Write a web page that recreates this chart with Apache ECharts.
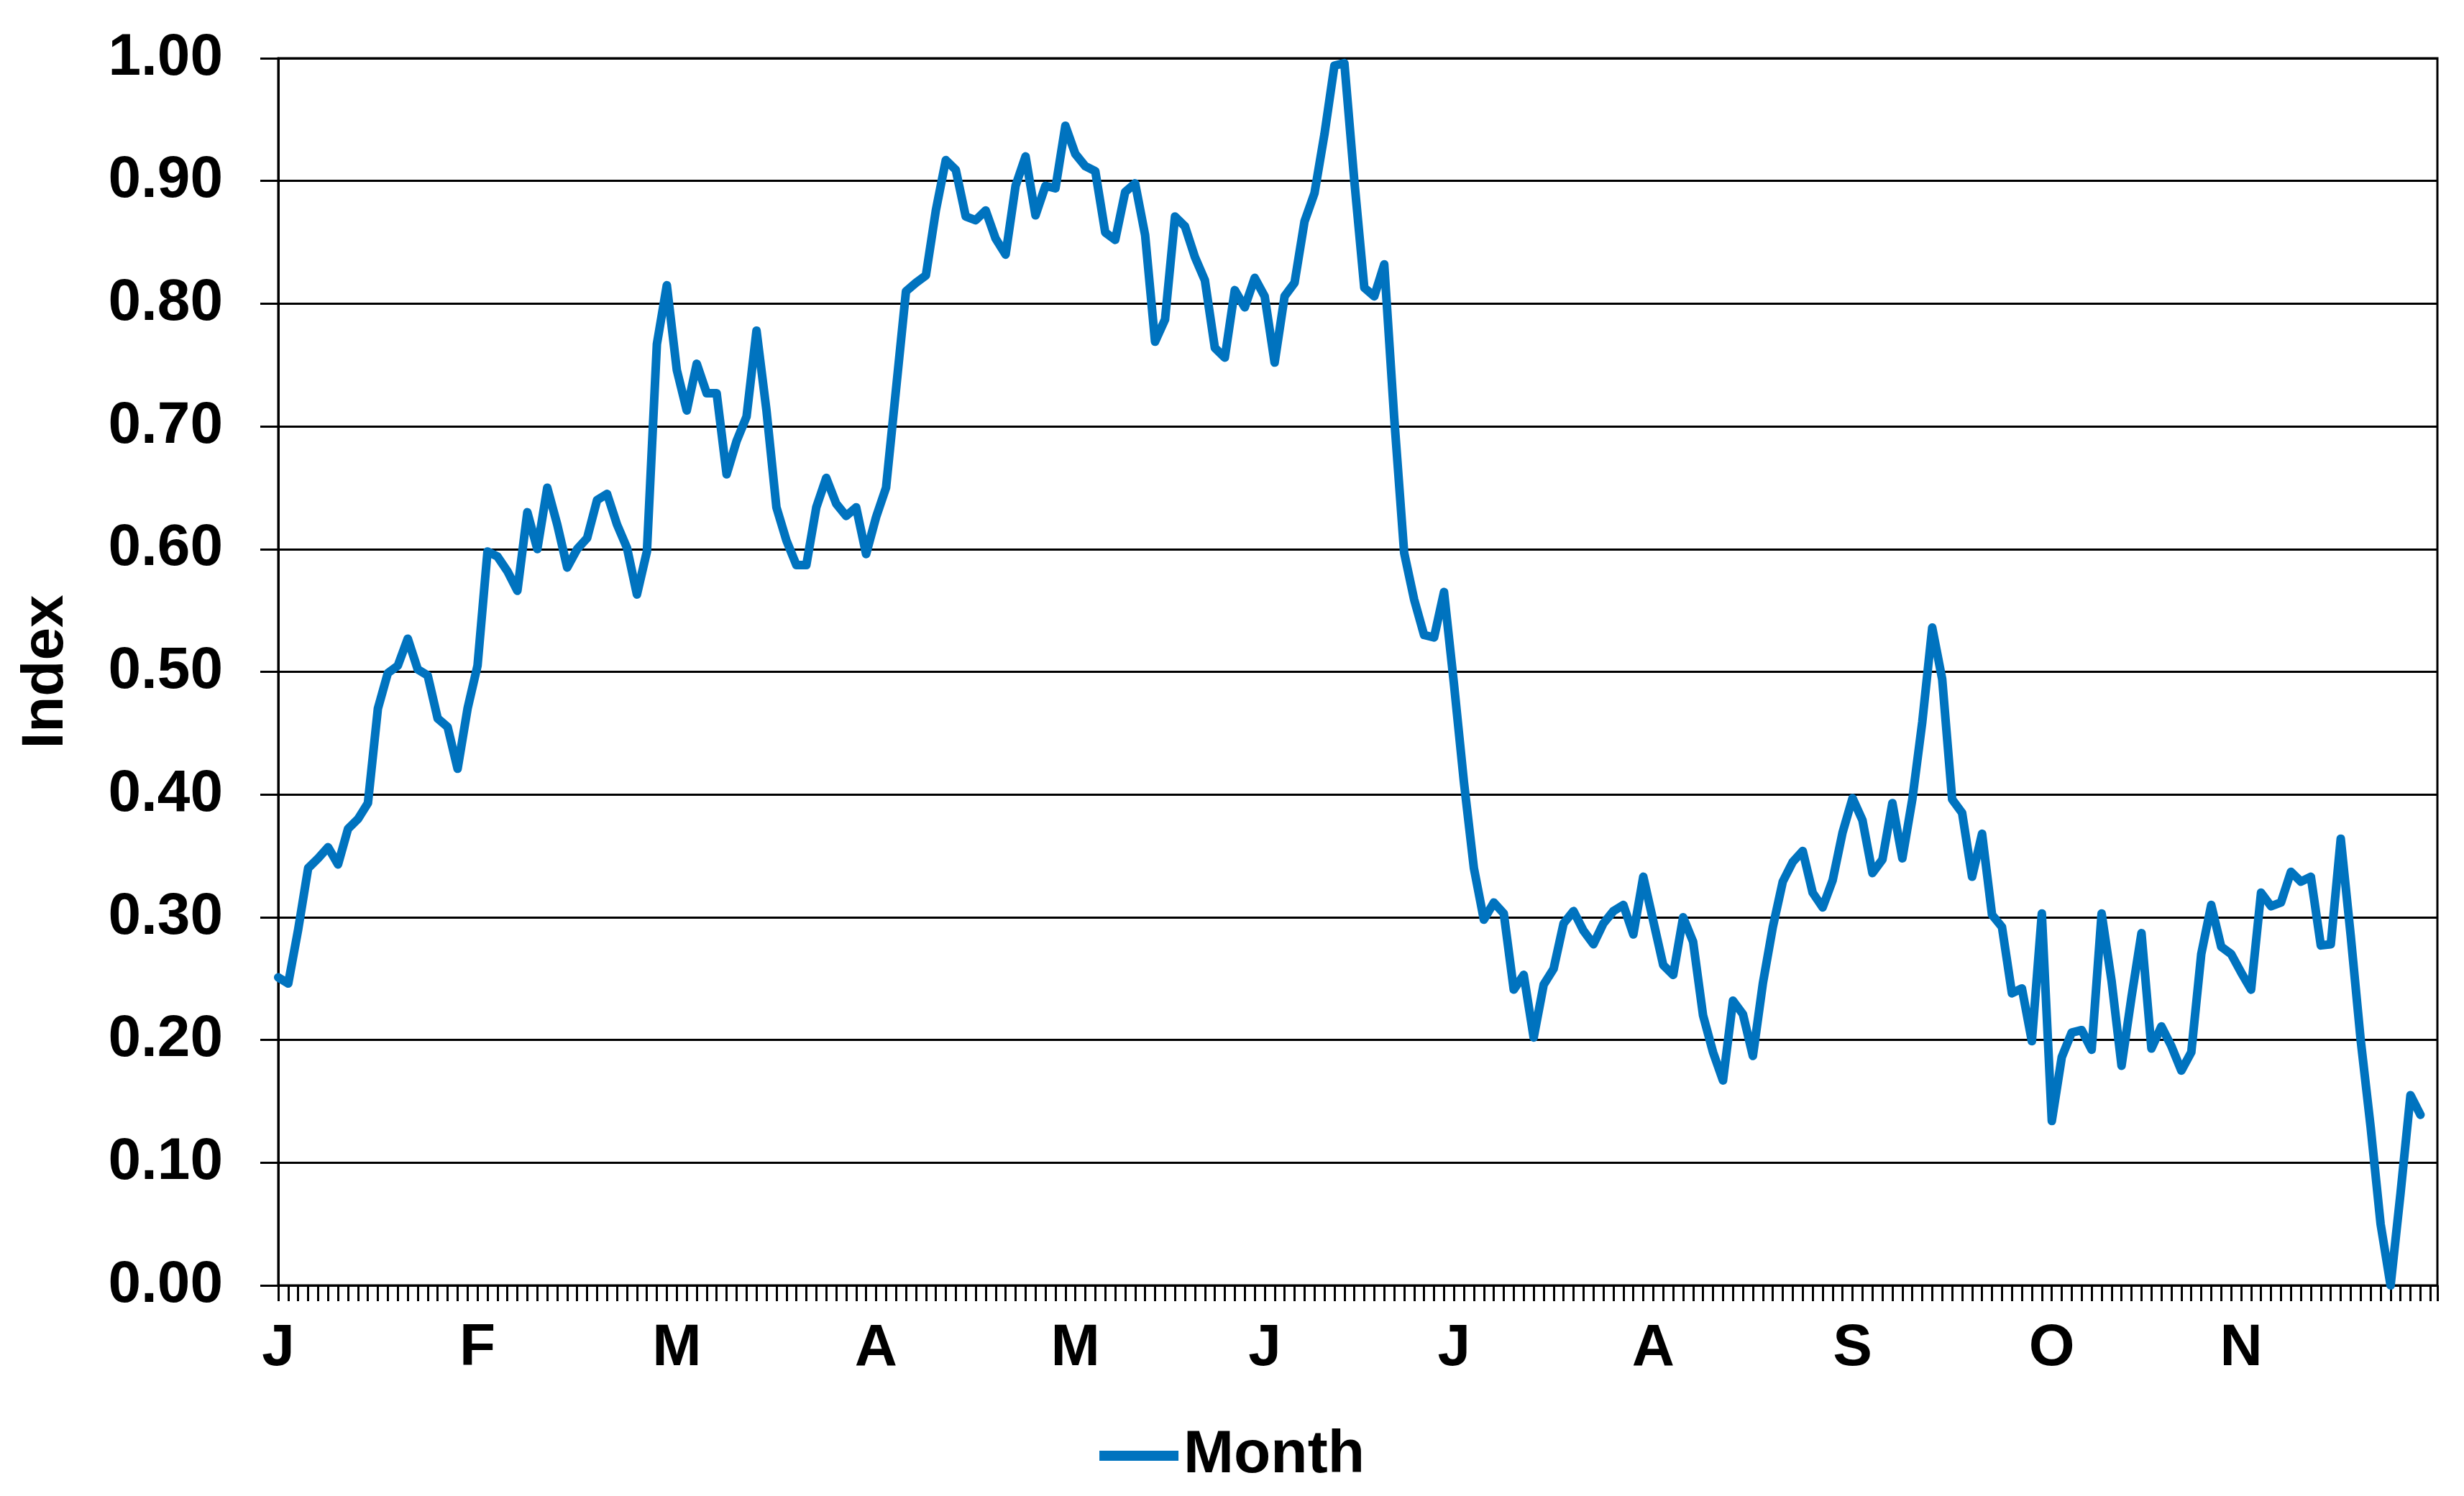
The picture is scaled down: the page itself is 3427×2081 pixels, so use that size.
<!DOCTYPE html>
<html>
<head>
<meta charset="utf-8">
<title>Index by month</title>
<script src="https://cdn.jsdelivr.net/npm/echarts@6.0.0/dist/echarts.min.js"></script>
<style>
  html, body { margin: 0; padding: 0; background: #fff; }
  #chart { width: 3427px; height: 2081px; }
</style>
</head>
<body>
<div id="chart"></div>
<script>
// ==========================
// DATA
// ==========================

const SERIES_NAME = "Month";

// month letters and the point index where each label sits
const MONTH_LABELS = ["J", "F", "M", "A", "M", "J", "J", "A", "S", "O", "N"];
const MONTH_START = [0, 20, 40, 60, 80, 99, 118, 138, 158, 178, 197];

// index values, one per trading day
const INDEX_VALUES = [
  0.251, 0.246, 0.290, 0.340, 0.348, 0.357, 0.343, 0.372, 0.380, 0.393,
  0.470, 0.499, 0.505, 0.527, 0.502, 0.497, 0.462, 0.455, 0.421, 0.470,
  0.505, 0.598, 0.594, 0.582, 0.566, 0.630, 0.600, 0.650, 0.620, 0.585,
  0.600, 0.609, 0.640, 0.645, 0.620, 0.601, 0.563, 0.598, 0.767, 0.815,
  0.746, 0.713, 0.751, 0.727, 0.727, 0.661, 0.688, 0.708, 0.778, 0.713,
  0.634, 0.607, 0.587, 0.587, 0.634, 0.658, 0.637, 0.627, 0.634, 0.596,
  0.626, 0.650, 0.730, 0.810, 0.817, 0.823, 0.876, 0.917, 0.909, 0.871,
  0.868, 0.876, 0.853, 0.840, 0.896, 0.920, 0.872, 0.896, 0.894, 0.945,
  0.922, 0.912, 0.908, 0.858, 0.852, 0.891, 0.898, 0.856, 0.769, 0.787,
  0.871, 0.863, 0.838, 0.819, 0.764, 0.756, 0.811, 0.797, 0.821, 0.806,
  0.752, 0.806, 0.817, 0.867, 0.890, 0.938, 0.994, 0.996, 0.900, 0.813,
  0.806, 0.832, 0.707, 0.597, 0.559, 0.530, 0.528, 0.565, 0.490, 0.410,
  0.340, 0.298, 0.312, 0.303, 0.241, 0.253, 0.202, 0.245, 0.258, 0.295,
  0.305, 0.289, 0.278, 0.295, 0.305, 0.310, 0.286, 0.333, 0.297, 0.261,
  0.253, 0.300, 0.280, 0.220, 0.190, 0.167, 0.232, 0.221, 0.187, 0.246,
  0.292, 0.329, 0.345, 0.354, 0.320, 0.308, 0.330, 0.369, 0.397, 0.379,
  0.336, 0.347, 0.393, 0.348, 0.396, 0.459, 0.536, 0.494, 0.396, 0.385,
  0.333, 0.368, 0.302, 0.292, 0.238, 0.242, 0.199, 0.303, 0.134, 0.186,
  0.206, 0.208, 0.192, 0.303, 0.248, 0.179, 0.235, 0.287, 0.193, 0.211,
  0.195, 0.175, 0.190, 0.270, 0.310, 0.276, 0.270, 0.255, 0.241, 0.320,
  0.309, 0.312, 0.337, 0.329, 0.333, 0.277, 0.278, 0.364, 0.285, 0.200,
  0.129, 0.050, 0.000, 0.075, 0.155, 0.139
];

// y axis ticks
const Y_MIN = 0;
const Y_MAX = 1;
const Y_STEP = 0.1;

// the axis runs a little past the last trading day
const X_MAX = 216.7;

// ==========================
// CHART
// ==========================

const FONT = '"Liberation Sans", Arial, Helvetica, sans-serif';
const BLUE = "#0073BF";

const labelAt = {};
MONTH_START.forEach((idx, k) => { labelAt[idx] = MONTH_LABELS[k]; });

const chart = echarts.init(document.getElementById("chart"));

chart.setOption({
  animation: false,
  backgroundColor: "#fff",
  textStyle: { fontFamily: FONT },

  grid: {
    left: 387,
    right: 37,
    top: 81,
    bottom: 293,
    outerBoundsMode: "none",
    show: true,
    borderColor: "#000",
    borderWidth: 3,
    backgroundColor: "transparent"
  },

  legend: {
    data: [SERIES_NAME],
    left: "center",
    top: 1978,
    icon: "rect",
    itemWidth: 110,
    itemHeight: 14,
    itemGap: 8,
    textStyle: {
      fontFamily: FONT,
      fontSize: 84,
      fontWeight: "bold",
      color: "#000",
      padding: [0, 0, 0, 2]
    }
  },

  xAxis: {
    type: "value",
    min: 0,
    max: X_MAX,
    interval: 1,
    splitLine: { show: false },
    axisLine: { show: true, onZero: false, lineStyle: { color: "#000", width: 3 } },
    axisTick: { show: true, inside: false, length: 22, lineStyle: { color: "#000", width: 3 } },
    axisLabel: {
      margin: 47,
      fontFamily: FONT,
      fontSize: 82,
      fontWeight: "bold",
      color: "#000",
      showMinLabel: true,
      showMaxLabel: true,
      formatter: (v) => labelAt[v] || ""
    }
  },

  yAxis: {
    type: "value",
    min: Y_MIN,
    max: Y_MAX,
    interval: Y_STEP,
    name: "Index",
    nameLocation: "middle",
    nameGap: 282,
    nameTextStyle: {
      fontFamily: FONT,
      fontSize: 82,
      fontWeight: "bold",
      color: "#000"
    },
    axisLine: { show: true, lineStyle: { color: "#000", width: 3 } },
    axisTick: { show: true, inside: false, length: 25, lineStyle: { color: "#000", width: 3 } },
    splitLine: { show: true, lineStyle: { color: "#000", width: 3 } },
    axisLabel: {
      margin: 77,
      fontFamily: FONT,
      fontSize: 82,
      fontWeight: "bold",
      color: "#000",
      formatter: (v) => v.toFixed(2)
    }
  },

  series: [
    {
      name: SERIES_NAME,
      type: "line",
      data: INDEX_VALUES.map((v, i) => [i, v]),
      showSymbol: false,
      symbol: "none",
      itemStyle: { color: BLUE },
      lineStyle: { color: BLUE, width: 12, join: "round", cap: "round" },
      z: 5
    }
  ]
});
</script>
</body>
</html>
